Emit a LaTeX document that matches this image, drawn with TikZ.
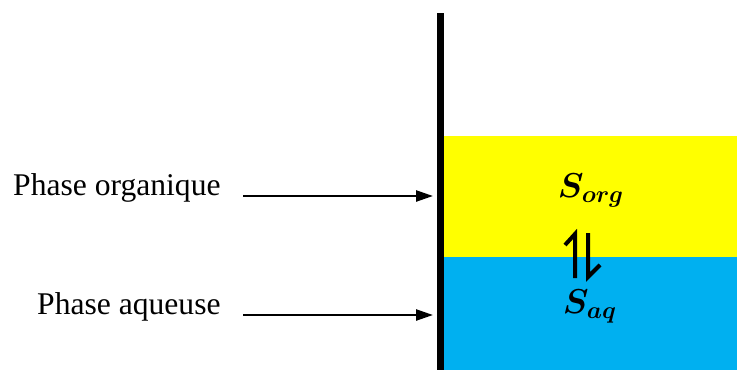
\documentclass[tikz,border=0pt]{standalone}
\usepackage{fontspec}
\usepackage{amsmath}
\setmainfont{Liberation Serif}
\usetikzlibrary{arrows.meta}
\definecolor{orgyellow}{RGB}{255,255,0}
\definecolor{aqblue}{RGB}{0,176,240}
\begin{document}
\begin{tikzpicture}[x=0.5pt,y=-0.5pt,
  lbl/.style={inner sep=0pt,anchor=base east,font=\fontsize{15.8}{19}\selectfont},
  species/.style={inner sep=0pt,anchor=base,font=\fontsize{17}{20}\selectfont},
  pointer/.style={line width=1.2pt,-{Triangle[length=8.5pt,width=5.5pt]}},
  harp/.style={line width=2pt,line cap=butt,line join=miter}]
\useasboundingbox (0,0) rectangle (737,370);
\fill[orgyellow] (443,136) rectangle (737,257);
\fill[aqblue] (443,257) rectangle (737,370);
\coordinate (wtop) at (440.5,13);
\coordinate (wbot) at (440.5,370);
\draw[line width=3.2pt] (wtop) -- (wbot);
\node[lbl] (lorg) at (221,195) {Phase organique};
\node[lbl] (laq) at (221,314) {Phase aqueuse};
\coordinate (sorg) at (243,196);
\coordinate (eorg) at (433,196);
\coordinate (saq) at (243,315);
\coordinate (eaq) at (433,315);
\draw[pointer] (sorg) -- (eorg);
\draw[pointer] (saq) -- (eaq);
\node[species] (Sorg) at (591,197) {$\boldsymbol{S_{org}}$};
\node[species] (Saq) at (590,313) {$\boldsymbol{S_{aq}}$};
\draw[harp] (575,278) -- (575,234) -- (565,245);
\draw[harp] (588,233) -- (588,277) -- (600,265);
\end{tikzpicture}
\end{document}
